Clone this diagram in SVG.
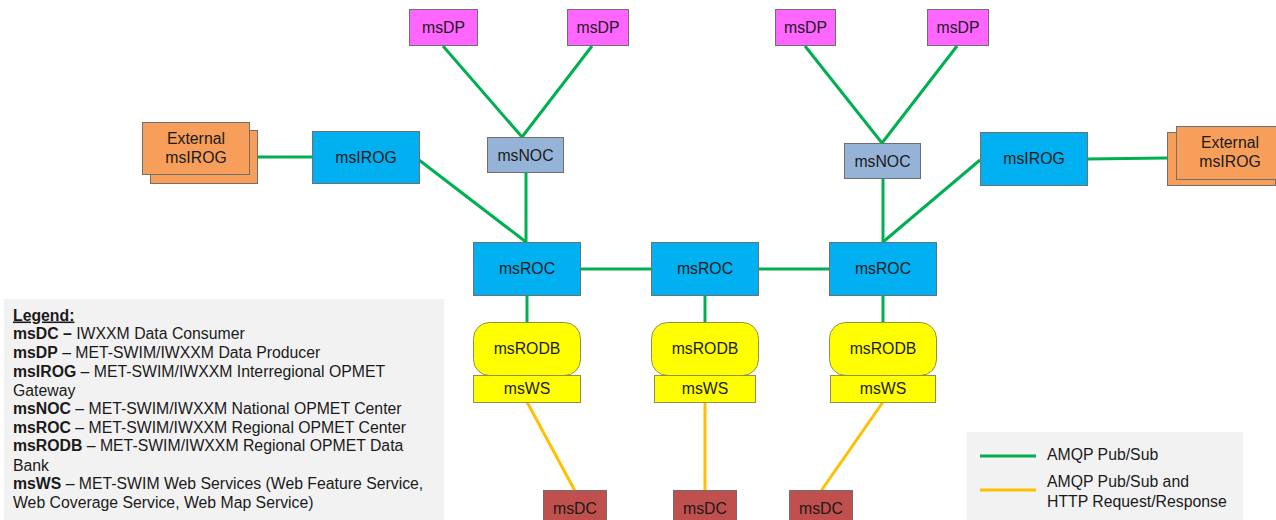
<svg xmlns="http://www.w3.org/2000/svg" width="1276" height="520" viewBox="0 0 1276 520">
<style>
text{font-family:"Liberation Sans",Arial,sans-serif;font-size:15.8px;fill:#1a1a1a}
.lbl{text-anchor:middle}
.box{stroke:#6f6f6f;stroke-width:1}
.dp{fill:#ff66ff}
.noc{fill:#95b3d7}
.blue{fill:#00b0f0}
.ext{fill:#f79f5a}
.yel{fill:#ffff00;stroke:#8f8f50}
.dc{fill:#c0504d}
.g{stroke:#00b050;stroke-width:3;fill:none}
.y{stroke:#ffc000;stroke-width:3;fill:none}
.b{font-weight:bold}
</style>
<rect width="1276" height="520" fill="#ffffff"/>
<g id="connectors">
<line class="g" x1="443" y1="46" x2="522" y2="137"/>
<line class="g" x1="592" y1="46" x2="522" y2="137"/>
<line class="g" x1="526" y1="173" x2="526" y2="242"/>
<line class="g" x1="419" y1="160" x2="526" y2="242"/>
<line class="g" x1="250" y1="157" x2="312" y2="157"/>
<line class="g" x1="805" y1="46" x2="882" y2="143"/>
<line class="g" x1="957" y1="46" x2="882" y2="143"/>
<line class="g" x1="883" y1="179" x2="883" y2="242"/>
<line class="g" x1="980" y1="160" x2="883" y2="242"/>
<line class="g" x1="1087" y1="159" x2="1167" y2="158"/>
<line class="g" x1="580" y1="269" x2="651" y2="269"/>
<line class="g" x1="758" y1="269" x2="829" y2="269"/>
<line class="g" x1="527" y1="295" x2="527" y2="322"/>
<line class="g" x1="705" y1="295" x2="705" y2="322"/>
<line class="g" x1="883" y1="295" x2="883" y2="322"/>
<line class="y" x1="527" y1="402" x2="575" y2="491"/>
<line class="y" x1="705" y1="402" x2="705" y2="491"/>
<line class="y" x1="883" y1="402" x2="821" y2="491"/>
</g>
<g id="dp1"><rect class="box dp" x="409.5" y="9.5" width="68" height="36"/><text class="lbl" x="443.5" y="33">msDP</text></g>
<g id="dp2"><rect class="box dp" x="567.5" y="9.5" width="61" height="36"/><text class="lbl" x="598" y="33">msDP</text></g>
<g id="dp3"><rect class="box dp" x="775.5" y="9.5" width="60" height="36"/><text class="lbl" x="805.5" y="33">msDP</text></g>
<g id="dp4"><rect class="box dp" x="927.5" y="9.5" width="61" height="36"/><text class="lbl" x="958" y="33">msDP</text></g>
<g id="noc1"><rect class="box noc" x="487.5" y="137.5" width="76" height="35"/><text class="lbl" x="525.5" y="160.5">msNOC</text></g>
<g id="noc2"><rect class="box noc" x="844.5" y="143.5" width="76" height="35"/><text class="lbl" x="882.5" y="166.5">msNOC</text></g>
<g id="ext1"><rect class="box ext" x="150.5" y="130.5" width="107" height="53"/><rect class="box ext" x="142.5" y="122.5" width="107" height="52"/><text class="lbl" x="196" y="144">External</text><text class="lbl" x="196" y="163">msIROG</text></g>
<g id="irog1"><rect class="box blue" x="312.5" y="131.5" width="107" height="52"/><text class="lbl" x="366" y="163">msIROG</text></g>
<g id="irog2"><rect class="box blue" x="980.5" y="132.5" width="107" height="53"/><text class="lbl" x="1034" y="164">msIROG</text></g>
<g id="ext2"><rect class="box ext" x="1167.5" y="132.5" width="108" height="53"/><rect class="box ext" x="1176.5" y="126.5" width="108" height="53"/><text class="lbl" x="1230" y="148">External</text><text class="lbl" x="1230" y="167">msIROG</text></g>
<g id="roc1"><rect class="box blue" x="473.5" y="242.5" width="107" height="53"/><text class="lbl" x="527" y="274">msROC</text></g>
<g id="roc2"><rect class="box blue" x="651.5" y="242.5" width="107" height="53"/><text class="lbl" x="705" y="274">msROC</text></g>
<g id="roc3"><rect class="box blue" x="829.5" y="242.5" width="107" height="53"/><text class="lbl" x="883" y="274">msROC</text></g>
<g id="rodb1"><rect class="yel" x="473.5" y="322.5" width="107" height="53" rx="16"/><text class="lbl" x="527" y="354">msRODB</text></g>
<g id="rodb2"><rect class="yel" x="651.5" y="322.5" width="107" height="53" rx="16"/><text class="lbl" x="705" y="354">msRODB</text></g>
<g id="rodb3"><rect class="yel" x="829.5" y="322.5" width="107" height="53" rx="16"/><text class="lbl" x="883" y="354">msRODB</text></g>
<g id="ws1"><rect class="yel" x="473.5" y="375.5" width="107" height="27"/><text class="lbl" x="527" y="394">msWS</text></g>
<g id="ws2"><rect class="yel" x="654.5" y="375.5" width="101" height="27"/><text class="lbl" x="705" y="394">msWS</text></g>
<g id="ws3"><rect class="yel" x="830.5" y="375.5" width="105" height="27"/><text class="lbl" x="883" y="394">msWS</text></g>
<g id="dc1"><rect class="box dc" x="543.5" y="490.5" width="63" height="35"/><text class="lbl" x="575" y="514">msDC</text></g>
<g id="dc2"><rect class="box dc" x="673.5" y="490.5" width="63" height="35"/><text class="lbl" x="705" y="514">msDC</text></g>
<g id="dc3"><rect class="box dc" x="789.5" y="490.5" width="63" height="35"/><text class="lbl" x="821" y="514">msDC</text></g>
<g id="legend">
<rect x="4" y="299" width="440" height="221" fill="#f2f2f2"/>
<text x="13" y="320.5" class="b" text-decoration="underline">Legend:</text>
<text x="13" y="339"><tspan class="b">msDC –</tspan> IWXXM Data Consumer</text>
<text x="13" y="357.5"><tspan class="b">msDP</tspan> – MET-SWIM/IWXXM Data Producer</text>
<text x="13" y="376.5"><tspan class="b">msIROG</tspan> – MET-SWIM/IWXXM Interregional OPMET</text>
<text x="13" y="395.5">Gateway</text>
<text x="13" y="414"><tspan class="b">msNOC</tspan> – MET-SWIM/IWXXM National OPMET Center</text>
<text x="13" y="432.5"><tspan class="b">msROC</tspan> – MET-SWIM/IWXXM Regional OPMET Center</text>
<text x="13" y="451"><tspan class="b">msRODB</tspan> – MET-SWIM/IWXXM Regional OPMET Data</text>
<text x="13" y="470.5">Bank</text>
<text x="13" y="489"><tspan class="b">msWS</tspan> – MET-SWIM Web Services (Web Feature Service,</text>
<text x="13" y="507.5">Web Coverage Service, Web Map Service)</text>
</g>
<g id="key">
<rect x="967" y="432" width="276" height="88" fill="#f2f2f2"/>
<line class="g" x1="980" y1="456" x2="1036" y2="456"/>
<line class="y" x1="980" y1="490" x2="1036" y2="490"/>
<text x="1047" y="460">AMQP Pub/Sub</text>
<text x="1047" y="487">AMQP Pub/Sub and</text>
<text x="1047" y="507">HTTP Request/Response</text>
</g>
</svg>
